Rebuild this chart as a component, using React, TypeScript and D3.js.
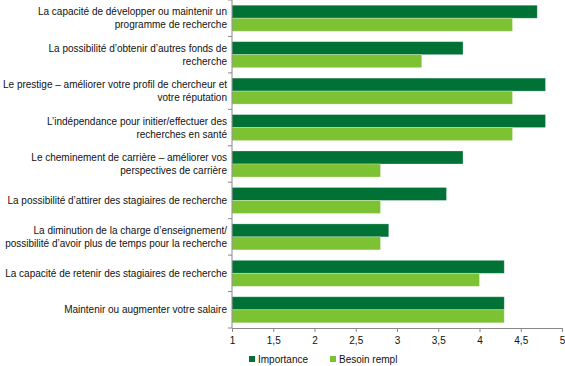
import * as d3 from "d3";
import { useEffect, useRef } from "react";

const categories = [
  ["La capacité de développer ou maintenir un", "programme de recherche"],
  ["La possibilité d’obtenir d’autres fonds de", "recherche"],
  ["Le prestige – améliorer votre profil de chercheur et", "votre réputation"],
  ["L’indépendance pour initier/effectuer des", "recherches en santé"],
  ["Le cheminement de carrière – améliorer vos", "perspectives de carrière"],
  ["La possibilité d’attirer des stagiaires de recherche"],
  ["La diminution de la charge d’enseignement/", "possibilité d’avoir plus de temps pour la recherche"],
  ["La capacité de retenir des stagiaires de recherche"],
  ["Maintenir ou augmenter votre salaire"],
];

const importance = [4.7, 3.8, 4.8, 4.8, 3.8, 3.6, 2.9, 4.3, 4.3];
const besoinRempl = [4.4, 3.3, 4.4, 4.4, 2.8, 2.8, 2.8, 4.0, 4.3];

const seriesNames = ["Importance", "Besoin rempl"];
const colors = ["#007236", "#7dc232"];
const xTicks = [1, 1.5, 2, 2.5, 3, 3.5, 4, 4.5, 5];

const App = () => {
  const ref = useRef<SVGSVGElement>(null);

  useEffect(() => {
    if (!ref.current) return;
    const width = 565;
    const height = 366;
    const margin = { top: 0, right: 3, bottom: 38, left: 232 };
    const innerW = width - margin.left - margin.right;
    const innerH = height - margin.top - margin.bottom;

    const svg = d3.select(ref.current);
    svg.selectAll("*").remove();
    svg.attr("width", width).attr("height", height);

    const font = "'Liberation Sans', Arial, sans-serif";

    const g = svg.append("g").attr("transform", `translate(${margin.left},${margin.top})`);

    const x = d3.scaleLinear().domain([1, 5]).range([0, innerW]);
    const y = d3
      .scaleBand<number>()
      .domain(d3.range(categories.length))
      .range([0, innerH])
      .paddingInner(0.286)
      .paddingOuter(0.143);
    const ySub = d3.scaleBand<number>().domain([0, 1]).range([0, y.bandwidth()]);

    const data = categories.map((c, i) => ({ i, values: [importance[i], besoinRempl[i]] }));

    // bars
    const groups = g
      .selectAll("g.cat")
      .data(data)
      .enter()
      .append("g")
      .attr("class", "cat")
      .attr("transform", (d) => `translate(0,${y(d.i)})`);

    groups
      .selectAll("rect")
      .data((d) => d.values.map((v, s) => ({ v, s })))
      .enter()
      .append("rect")
      .attr("x", x(1))
      .attr("y", (d) => ySub(d.s)!)
      .attr("width", (d) => x(d.v) - x(1))
      .attr("height", ySub.bandwidth())
      .attr("fill", (d) => colors[d.s])
      .attr("stroke", "rgba(255,255,255,0.35)")
      .attr("stroke-width", 0.8);

    // y axis
    g.append("line")
      .attr("x1", 0)
      .attr("x2", 0)
      .attr("y1", 0)
      .attr("y2", innerH)
      .attr("stroke", "#888");
    const step = y.step();
    d3.range(categories.length + 1).forEach((k) => {
      g.append("line")
        .attr("x1", -4)
        .attr("x2", 0)
        .attr("y1", k * step)
        .attr("y2", k * step)
        .attr("stroke", "#888");
    });

    // category labels
    data.forEach((d) => {
      const lines = categories[d.i];
      const cy = y(d.i)! + y.bandwidth() / 2;
      const lh = 13;
      const t = g
        .append("text")
        .attr("text-anchor", "end")
        .attr("font-family", font)
        .attr("font-size", 10)
        .attr("fill", "#111");
      lines.forEach((ln, li) => {
        t.append("tspan")
          .attr("x", -5)
          .attr("y", cy + (li - (lines.length - 1) / 2) * lh + 3.5)
          .text(ln);
      });
    });

    // x axis
    const xAxis = g
      .append("g")
      .attr("transform", `translate(0,${innerH})`)
      .call(
        d3
          .axisBottom(x)
          .tickValues(xTicks)
          .tickSize(4)
          .tickFormat((v) => d3.format("")(v as number).replace(".", ","))
      );
    xAxis.select(".domain").attr("stroke", "#888");
    xAxis.selectAll(".tick line").attr("stroke", "#888");
    xAxis
      .selectAll(".tick text")
      .attr("font-family", font)
      .attr("font-size", 10)
      .attr("fill", "#111")
      .attr("dy", "0.9em");

    // legend
    const legendX = [249, 330];
    const leg = svg.append("g");
    seriesNames.forEach((name, s) => {
      leg
        .append("rect")
        .attr("x", legendX[s])
        .attr("y", 356)
        .attr("width", 6)
        .attr("height", 6)
        .attr("fill", colors[s]);
      leg
        .append("text")
        .attr("x", legendX[s] + 9)
        .attr("y", 363)
        .attr("font-family", font)
        .attr("font-size", 10)
        .attr("fill", "#111")
        .text(name);
    });
  }, []);

  return (
    <div style={{ position: "absolute", left: 0, top: 0 }}>
      <svg ref={ref} style={{ display: "block" }} />
    </div>
  );
};

export default App;
